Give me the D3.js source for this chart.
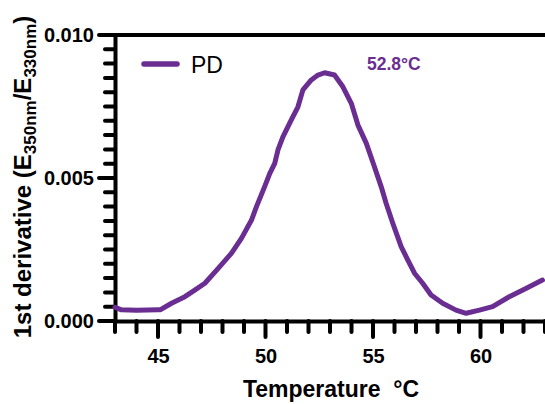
<!DOCTYPE html>
<html lang="en">

<head>
    <meta charset="UTF-8">
    <script src="https://cdn.jsdelivr.net/npm/d3@7/dist/d3.min.js"></script>
    <title>PD first derivative</title>
    <style>
        body { margin: 0; background: #fff; }
        text { font-family: 'Liberation Sans', Arial, sans-serif; }
    </style>
</head>

<body>
    <svg id="mainsvg" width="545" height="404"></svg>
    <script>
        // temperature (°C) and 1st derivative values
        const temps = [43.0, 43.3, 44.0, 45.0, 45.1, 45.63, 46.25, 46.71, 47.18, 47.8, 48.42, 48.88, 49.35,
            49.58, 49.96, 50.2, 50.43, 50.58, 50.81, 51.2, 51.51, 51.74, 52.13, 52.44, 52.75, 53.21, 53.6,
            53.99, 54.3, 54.69, 54.99, 55.38, 55.61, 55.92, 56.31, 56.62, 56.93, 57.31, 57.7, 58.24, 58.86,
            59.33, 59.95, 60.56, 61.34, 62.11, 62.88]
        const pdValues = [0.00048, 0.00039, 0.00038, 0.00039, 0.00039, 0.00062, 0.00085, 0.00108, 0.00132,
            0.00184, 0.00237, 0.00289, 0.00353, 0.0040, 0.0047, 0.00516, 0.00551, 0.00598, 0.00644, 0.00703,
            0.00749, 0.00808, 0.00843, 0.0086, 0.00868, 0.0086, 0.00819, 0.00761, 0.00685, 0.00621, 0.00556,
            0.0047, 0.00412, 0.00342, 0.0026, 0.00213, 0.00167, 0.00132, 0.00091, 0.00062, 0.00038, 0.00027,
            0.00038, 0.0005, 0.00085, 0.00114, 0.00143]
        const xTicks = [45, 50, 55, 60]
        const xMinorTicks = d3.range(43, 64, 1)
        const yTicks = [0, 0.005, 0.01]
        const yMinorTicks = d3.range(0, 21).map(i => i * 0.0005)
        const seriesName = 'PD'
        const peakLabel = '52.8°C'

        const purple = '#6a2d91'
        const svg = d3.select('#mainsvg')
        const width = +svg.attr('width')
        const height = +svg.attr('height')
        const margin = { top: 35, right: 0, bottom: 83, left: 115 }
        const innerWidth = width - margin.left - margin.right
        const innerHeight = height - margin.top - margin.bottom

        const xScale = d3.scaleLinear().domain([43, 63]).range([0, innerWidth])
        const yScale = d3.scaleLinear().domain([0, 0.01]).range([innerHeight, 0])

        const g = svg.append('g')
            .attr('transform', `translate(${margin.left},${margin.top})`)

        // top frame line
        g.append('line')
            .attr('x1', 0).attr('x2', innerWidth)
            .attr('y1', 0).attr('y2', 0)
            .attr('stroke', 'black').attr('stroke-width', 4)

        // tick marks (minor every 1 °C / 0.0005, major at labelled values)
        const tickW = 4
        g.append('g').selectAll('path').data(xMinorTicks).join('path')
            .attr('d', d => `M${xScale(d)},${innerHeight}V${innerHeight + (xTicks.includes(d) ? 16 : 11)}`)
            .attr('stroke', 'black').attr('stroke-width', tickW)
            .attr('stroke-linecap', 'round')
        g.append('g').selectAll('path').data(yMinorTicks).join('path')
            .attr('d', (d, i) => `M0,${yScale(d)}H${i % 10 === 0 ? -16 : -10}`)
            .attr('stroke', 'black').attr('stroke-width', tickW)
            .attr('stroke-linecap', 'round')

        // axes with labels
        const xAxis = d3.axisBottom(xScale).tickValues(xTicks).tickSize(0).tickSizeOuter(0).tickFormat(d3.format('d'))
        const xg = g.append('g').attr('class', 'axis')
            .attr('transform', `translate(0,${innerHeight})`)
            .call(xAxis)
        xg.selectAll('.tick text').attr('y', 28)
        const yAxis = d3.axisLeft(yScale).tickValues(yTicks).tickSize(0).tickSizeOuter(0).tickFormat(d3.format('.3f'))
        const yg = g.append('g').attr('class', 'axis')
            .call(yAxis)
        yg.selectAll('.tick text').attr('x', -21)

        g.selectAll('.axis path')
            .attr('stroke-width', 4)
            .attr('stroke-linecap', 'round')
        g.selectAll('.axis text')
            .attr('font-size', 20)
            .attr('font-weight', 'bold')
            .attr('fill', 'black')
            .attr('font-family', "'Liberation Sans', Arial, sans-serif")

        // curve
        const points = temps.map((t, i) => [t, pdValues[i]])
        const line = d3.line()
            .x(d => xScale(d[0]))
            .y(d => yScale(d[1]))
        g.append('path')
            .datum(points)
            .attr('d', line)
            .attr('fill', 'none')
            .attr('stroke', purple)
            .attr('stroke-width', 5)
            .attr('stroke-linejoin', 'round')
            .attr('stroke-linecap', 'round')

        // legend
        svg.append('line')
            .attr('x1', 144).attr('x2', 177)
            .attr('y1', 64).attr('y2', 64)
            .attr('stroke', purple).attr('stroke-width', 5.5)
            .attr('stroke-linecap', 'round')
        svg.append('text').text(seriesName)
            .attr('x', 191).attr('y', 73)
            .attr('font-size', 23)

        // peak annotation
        svg.append('text').text(peakLabel)
            .attr('x', 367).attr('y', 70)
            .attr('font-size', 17.5)
            .attr('font-weight', 'bold')
            .attr('fill', purple)

        // axis titles
        svg.append('text')
            .attr('x', 331).attr('y', 397)
            .attr('text-anchor', 'middle')
            .attr('font-size', 23)
            .attr('font-weight', 'bold')
            .text('Temperature \u00a0°C')

        const yTitle = svg.append('text')
            .attr('transform', 'translate(31,177) rotate(-90)')
            .attr('text-anchor', 'middle')
            .attr('font-size', 24)
            .attr('font-weight', 'bold')
        yTitle.append('tspan').text('1st derivative (E')
        yTitle.append('tspan').text('350nm').attr('font-size', 17).attr('dy', 5)
        yTitle.append('tspan').text('/E').attr('dy', -5)
        yTitle.append('tspan').text('330nm').attr('font-size', 17).attr('dy', 5)
        yTitle.append('tspan').text(')').attr('dy', -5)
    </script>
</body>

</html>
